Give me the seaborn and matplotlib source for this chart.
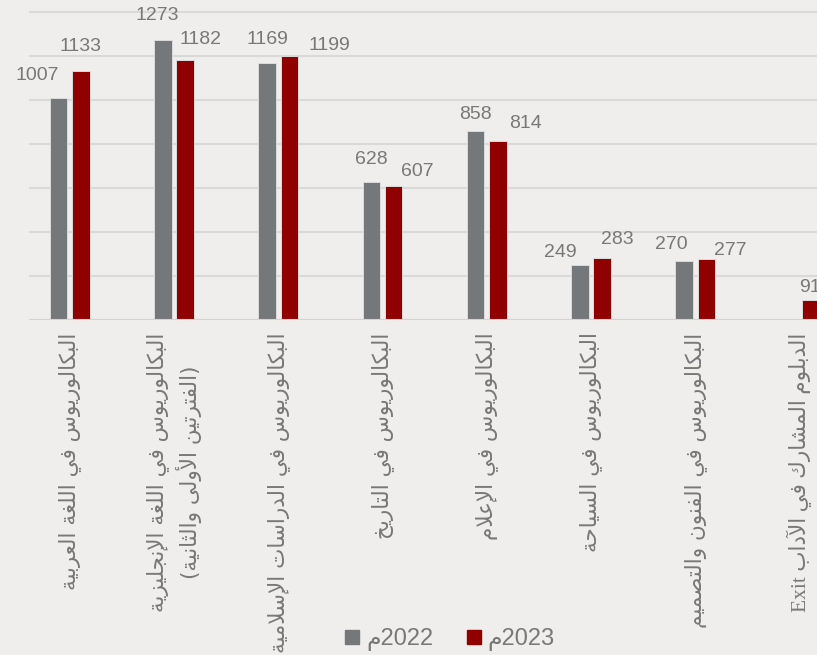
import re
import numpy as np
import pandas as pd
import matplotlib
matplotlib.use("Agg")
import matplotlib.pyplot as plt
from matplotlib.lines import Line2D
import seaborn as sns

# %% Data ---------------------------------------------------------------------
categories = [
    "البكالوريوس في اللغة العربية",
    "البكالوريوس في اللغة الإنجليزية\n(الفترتين الأولى والثانية)",
    "البكالوريوس في الدراسات الإسلامية",
    "البكالوريوس في التاريخ",
    "البكالوريوس في الإعلام",
    "البكالوريوس في السياحة",
    "البكالوريوس في الفنون والتصميم",
    "الدبلوم المشارك في الآداب Exit",
]
values_2022 = [1007, 1273, 1169, 628, 858, 249, 270, np.nan]
values_2023 = [1133, 1182, 1199, 607, 814, 283, 277, 91]
series_names = ["2022م", "2023م"]
y_ticks = [0, 200, 400, 600, 800, 1000, 1200, 1400]

# %% Arabic shaping (matplotlib has no complex text layout) --------------------
DUAL = {"ئ": 0xFE89, "ب": 0xFE8F, "ت": 0xFE95, "ث": 0xFE99, "ج": 0xFE9D,
        "ح": 0xFEA1, "خ": 0xFEA5, "س": 0xFEB1, "ش": 0xFEB5, "ص": 0xFEB9,
        "ض": 0xFEBD, "ط": 0xFEC1, "ظ": 0xFEC5, "ع": 0xFEC9, "غ": 0xFECD,
        "ف": 0xFED1, "ق": 0xFED5, "ك": 0xFED9, "ل": 0xFEDD, "م": 0xFEE1,
        "ن": 0xFEE5, "ه": 0xFEE9, "ي": 0xFEF1}
RIGHT = {"آ": 0xFE81, "أ": 0xFE83, "ؤ": 0xFE85, "إ": 0xFE87, "ا": 0xFE8D,
         "ة": 0xFE93, "د": 0xFEA9, "ذ": 0xFEAB, "ر": 0xFEAD, "ز": 0xFEAF,
         "و": 0xFEED, "ى": 0xFEEF}
LAM_ALEF = {"آ": 0xFEF5, "أ": 0xFEF7, "إ": 0xFEF9, "ا": 0xFEFB}


def _is_dual(c):
    return isinstance(c, str) and c in DUAL


def _joins_prev(c):
    return isinstance(c, tuple) or (c in DUAL or c in RIGHT)


def shape(s):
    chars, i = [], 0
    while i < len(s):
        if s[i] == "ل" and i + 1 < len(s) and s[i + 1] in LAM_ALEF:
            chars.append(("LA", s[i + 1]))
            i += 2
        else:
            chars.append(s[i])
            i += 1
    out = []
    for k, c in enumerate(chars):
        prev = chars[k - 1] if k > 0 else None
        nxt = chars[k + 1] if k + 1 < len(chars) else None
        p = prev is not None and _is_dual(prev) and _joins_prev(c)
        n = _is_dual(c) and nxt is not None and _joins_prev(nxt)
        if isinstance(c, tuple):
            out.append(chr(LAM_ALEF[c[1]] + (1 if p else 0)))
        elif c in DUAL:
            out.append(chr(DUAL[c] + (3 if p and n else 1 if p else 2 if n else 0)))
        elif c in RIGHT:
            out.append(chr(RIGHT[c] + (1 if p else 0)))
        else:
            out.append(c)
    return "".join(out)


def rtl(text):
    lines = []
    for line in text.split("\n"):
        rev = shape(line)[::-1].translate(str.maketrans("()", ")("))
        rev = re.sub(r"[A-Za-z0-9]+(?: [A-Za-z0-9]+)*",
                     lambda m: m.group(0)[::-1], rev)
        lines.append(rev)
    return "\n".join(lines)


# %% Plot ---------------------------------------------------------------------
BG = "#efeeec"
GREY = "#75787b"
RED = "#900000"
TXT = "#787878"

sns.set_style("white")
plt.rcParams["font.family"] = ["Liberation Sans", "DejaVu Sans"]

df = pd.DataFrame({
    "category": categories * 2,
    "value": values_2022 + values_2023,
    "year": [series_names[0]] * len(categories) + [series_names[1]] * len(categories),
})

fig = plt.figure(figsize=(8.17, 6.55), dpi=100, facecolor=BG)
ax = fig.add_axes([29 / 817, 335 / 655, 788 / 817, 320 / 655])
ax.set_facecolor(BG)

sns.barplot(data=df, x="category", y="value", hue="year",
            palette=[GREY, RED], saturation=1, width=0.43, gap=0.22,
            edgecolor="#dcdcdc", linewidth=0.7, legend=False, ax=ax, zorder=3)

ax.set_ylim(0, 1454.5)
ax.set_xlim(-0.391, 7.168)
ax.set_yticks(y_ticks)
ax.set_yticklabels([])
ax.tick_params(axis="both", length=0)
ax.grid(axis="y", color="#d9d9d9", linewidth=1.5, zorder=0)
ax.set_axisbelow(True)
for sp in ax.spines.values():
    sp.set_visible(False)
ax.axhline(0, color="#d3d3d3", linewidth=1.5, zorder=4)
ax.set_xlabel("")
ax.set_ylabel("")

# category labels, rotated, Arabic shaped
ax.set_xticks(range(len(categories)))
ax.set_xticklabels([rtl(c) for c in categories], rotation=90, va="top",
                   ha="center", multialignment="center", fontsize=15.5,
                   color=TXT, family=["DejaVu Sans"], linespacing=1.3)
ax.tick_params(axis="x", pad=9)
ax.get_xticklabels()[-1].set_family(["Liberation Serif", "DejaVu Sans"])

# data labels (pixel offsets from bar top, placed as in the original)
offsets_2022 = [(-21, 23), (-6, 24), (0, 23), (0, 22), (0, 17), (-19, 13), (-13, 16), None]
offsets_2023 = [(0, 24), (15, 20), (40, 11), (24, 15), (28, 17), (15, 18), (24, 9), (-1, 12)]
for cont, vals, offs in zip(ax.containers, [values_2022, values_2023],
                            [offsets_2022, offsets_2023]):
    for bar, v, off in zip(cont, vals, offs):
        if off is None or np.isnan(v):
            continue
        ax.annotate(f"{v:.0f}", (bar.get_x() + bar.get_width() / 2, v),
                    xytext=off, textcoords="offset pixels", ha="center",
                    va="center", fontsize=14, color=TXT, annotation_clip=False)

handles = [Line2D([], [], marker="s", linestyle="", markersize=10.5, color=c)
           for c in [GREY, RED]]
fig.legend(handles, [rtl(s) for s in series_names], loc="center",
           bbox_to_anchor=(0.548, 0.023), ncol=2, frameon=False,
           fontsize=17, labelcolor=TXT, handletextpad=0.1, columnspacing=1.2,
           handlelength=1.0)

fig.savefig("out.png", dpi=100, facecolor=BG)
